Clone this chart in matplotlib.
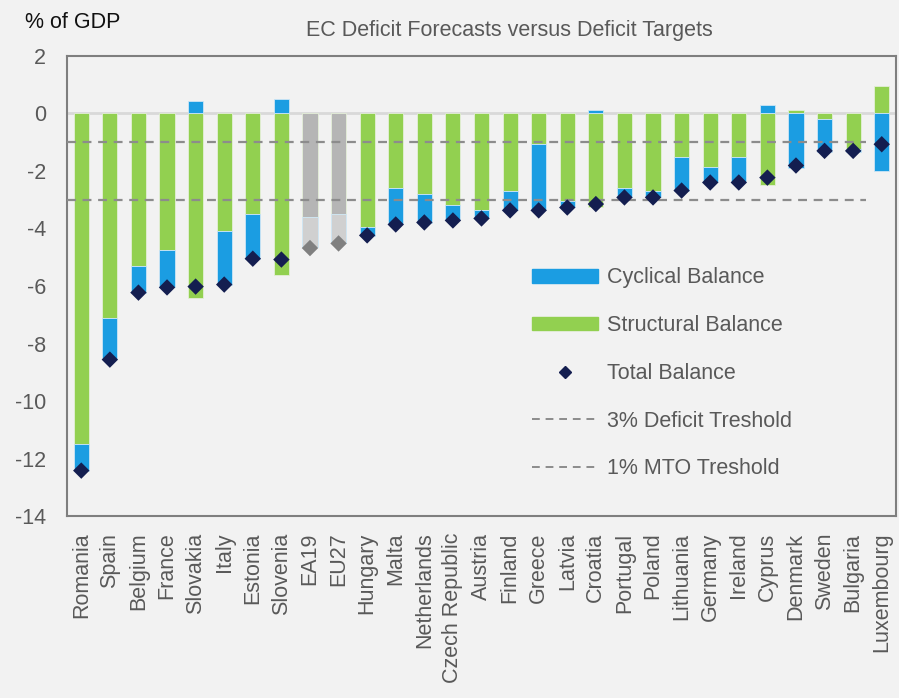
import matplotlib.pyplot as plt
import numpy as np
from matplotlib.lines import Line2D
from matplotlib.patches import Patch

plt.rcParams['font.family'] = ['Liberation Sans', 'DejaVu Sans']
plt.rcParams['axes.unicode_minus'] = False

countries = ["Romania", "Spain", "Belgium", "France", "Slovakia", "Italy", "Estonia",
             "Slovenia", "EA19", "EU27", "Hungary", "Malta", "Netherlands",
             "Czech Republic", "Austria", "Finland", "Greece", "Latvia", "Croatia",
             "Portugal", "Poland", "Lithuania", "Germany", "Ireland", "Cyprus",
             "Denmark", "Sweden", "Bulgaria", "Luxembourg"]
structural = [-11.5, -7.1, -5.3, -4.75, -6.4, -4.1, -3.5, -5.6, -3.6, -3.5, -3.95,
              -2.6, -2.8, -3.2, -3.35, -2.7, -1.05, -3.05, -3.25, -2.6, -2.7, -1.5,
              -1.85, -1.5, -2.5, 0.12, -0.2, -1.25, 0.95]
cyclical = [-0.95, -1.45, -0.95, -1.3, 0.42, -1.85, -1.55, 0.5, -1.05, -1.0, -0.3,
            -1.25, -1.0, -0.5, -0.3, -0.65, -2.3, -0.2, 0.12, -0.32, -0.2, -1.2,
            -0.55, -0.9, 0.28, -1.9, -1.15, -0.08, -2.0]
total = [-12.42, -8.56, -6.23, -6.05, -6.02, -5.95, -5.05, -5.08, -4.68, -4.52, -4.24,
         -3.86, -3.79, -3.72, -3.65, -3.37, -3.37, -3.27, -3.15, -2.92, -2.92, -2.68,
         -2.4, -2.4, -2.23, -1.81, -1.3, -1.3, -1.07]
aggregates = ["EA19", "EU27"]

GREEN = "#92D050"
BLUE = "#1B9DE2"
NAVY = "#141E50"
TEXT = "#595959"
FS = 15.5

fig = plt.figure(figsize=(8.99, 6.98), dpi=100, facecolor="#F2F2F2")
ax = fig.add_axes([0.0745, 0.2607, 0.9222, 0.6591], facecolor="#F2F2F2")

x = np.arange(len(countries))
struct = np.array(structural)
cyc = np.array(cyclical)
# cyclical stacks on structural only when both have the same sign
bottom = np.where(np.sign(struct) == np.sign(cyc), struct, 0)
is_agg = np.array([c in aggregates for c in countries])

s_col = [("#B5B5B5" if a else GREEN) for a in is_agg]
c_col = [("#D0D0D0" if a else BLUE) for a in is_agg]
d_col = [("#808080" if a else NAVY) for a in is_agg]

ax.axhline(0, color="#D9D9D9", lw=2, zorder=1)
ax.bar(x, struct, width=0.53, color=s_col, edgecolor="#E4EFD8", lw=0.6, zorder=2)
ax.bar(x, cyc, bottom=bottom, width=0.53, color=c_col, edgecolor="#CDE6F5", lw=0.6, zorder=2)
ax.hlines([-1, -3], -0.5, len(countries) - 1.55, colors="#8C8C8C", linestyles=(0, (4, 3)),
          lw=1.6, zorder=3)
ax.scatter(x, total, marker="D", s=70, c=d_col, zorder=4, linewidths=0)

ax.set_xlim(-0.5, len(countries) - 0.5)
ax.set_ylim(-14, 2)
ax.set_yticks(np.arange(-14, 3, 2))
ax.set_xticks(x)
ax.set_xticklabels(countries, rotation=90, fontsize=FS, color=TEXT)
ax.tick_params(axis="y", labelsize=FS, colors=TEXT, length=0, pad=15)
ax.tick_params(axis="x", length=0, pad=12)
for s in ax.spines.values():
    s.set_color("#7F7F7F")
    s.set_linewidth(1.5)

fig.text(0.028, 0.968, "% of GDP", fontsize=FS, color="#111111", va="center")
fig.text(0.567, 0.957, "EC Deficit Forecasts versus Deficit Targets", fontsize=FS,
         color=TEXT, ha="center", va="center")

handles = [Patch(color=BLUE, label="Cyclical Balance"),
           Patch(color=GREEN, label="Structural Balance"),
           Line2D([], [], marker="D", color=NAVY, ls="", ms=6, label="Total Balance"),
           Line2D([], [], color="#8C8C8C", ls=(0, (4, 3)), lw=1.4, label="3% Deficit Treshold"),
           Line2D([], [], color="#8C8C8C", ls=(0, (4, 3)), lw=1.4, label="1% MTO Treshold")]
leg = ax.legend(handles=handles, loc="upper left", bbox_to_anchor=(0.55, 0.559),
                frameon=False, fontsize=FS, labelcolor=TEXT, handlelength=3.1,
                handleheight=0.6, labelspacing=1.24, handletextpad=0.42, borderaxespad=0)

fig.savefig("out.png", dpi=100, facecolor=fig.get_facecolor())
